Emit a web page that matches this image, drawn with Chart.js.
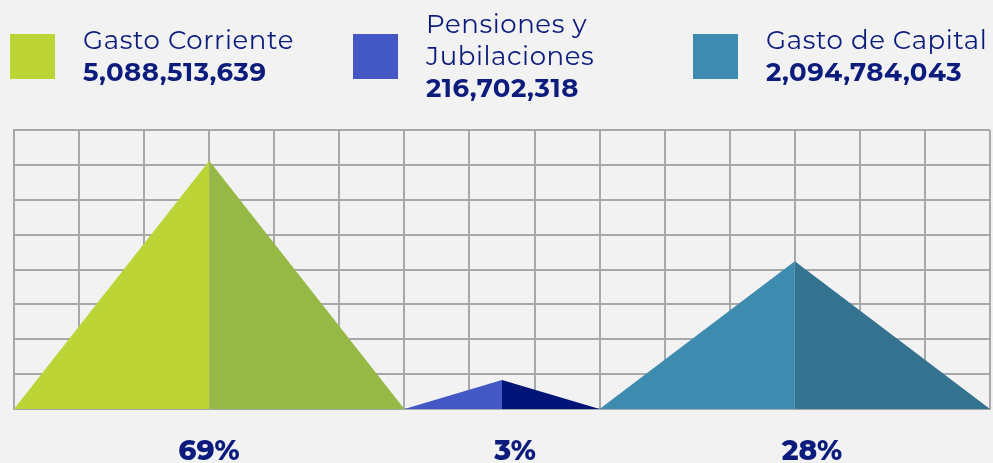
<!DOCTYPE html>
<html>
<head>
<meta charset="utf-8">
<script src="https://cdn.jsdelivr.net/npm/chart.js@4"></script>
<style>
  html, body { margin: 0; padding: 0; background: #f2f2f2; }
  body { width: 993px; height: 463px; position: relative; overflow: hidden;
         font-family: "Montserrat", "Open Sans", sans-serif; color: #0c1c7c; }
  #chart { position: absolute; left: 0; top: 0; }
  .legend-item { position: absolute; top: 33px; height: 45px; display: flex; align-items: center; }
  .legend-item .swatch { width: 45px; height: 45px; flex: none; margin-top: 2px; }
  .legend-item .text { margin-left: 28px; font-size: 26px; letter-spacing: 0.6px; line-height: 32px; white-space: nowrap; }
  .legend-item .amount { font-weight: 700; font-size: 26px; letter-spacing: 0.5px; }
  .pct { position: absolute; top: 432px; width: 120px; margin-left: -60px; text-align: center;
         font-weight: 800; font-size: 28px; line-height: 36px; }
</style>
</head>
<body>
<canvas id="chart" width="993" height="463"></canvas>
<div id="legend"></div>
<div id="pcts"></div>
<script>
const categories = [['Gasto Corriente'], ['Pensiones y', 'Jubilaciones'], ['Gasto de Capital']];
const amounts = [5088513639, 216702318, 2094784043];
const percents = [69, 3, 28];
// triangle peak heights in grid rows
const peakHeights = [7.12, 0.83, 4.24];
const lightColors = ['#bcd435', '#4358c4', '#3e8bb0'];
const darkColors = ['#96b946', '#001478', '#34738f'];

// layout: width of each pyramid in grid columns, legend / label x positions
const baseWidths = [6, 3, 6];
const legendLeft = [10, 353, 693];
const pctCenter = [209, 515, 812];

const legendElem = document.getElementById('legend');
categories.forEach((cat, i) => {
  const item = document.createElement('div');
  item.className = 'legend-item';
  item.style.left = legendLeft[i] + 'px';
  item.innerHTML = `<div class="swatch" style="background:${lightColors[i]}"></div>
    <div class="text">${cat.join('<br>')}<br><span class="amount">${amounts[i].toLocaleString('en-US')}</span></div>`;
  legendElem.appendChild(item);
});

const pctsElem = document.getElementById('pcts');
percents.forEach((p, i) => {
  const d = document.createElement('div');
  d.className = 'pct';
  d.style.left = pctCenter[i] + 'px';
  d.textContent = p + '%';
  pctsElem.appendChild(d);
});

const datasets = [];
let start = 0;
peakHeights.forEach((h, i) => {
  const mid = start + baseWidths[i] / 2;
  const end = start + baseWidths[i];
  datasets.push({
    data: [{ x: start, y: 0 }, { x: mid, y: h }, { x: mid, y: 0 }],
    backgroundColor: lightColors[i], fill: 'origin'
  });
  datasets.push({
    data: [{ x: mid, y: 0 }, { x: mid, y: h }, { x: end, y: 0 }],
    backgroundColor: darkColors[i], fill: 'origin'
  });
  start = end;
});
datasets.forEach(ds => {
  ds.borderWidth = 0;
  ds.pointRadius = 0;
  ds.tension = 0;
});

const gridStyle = { color: '#a5a9aa', lineWidth: 2, drawTicks: false };
new Chart(document.getElementById('chart').getContext('2d'), {
  type: 'line',
  data: { datasets: datasets },
  options: {
    responsive: false,
    animation: false,
    layout: { padding: { left: 14, right: 3, top: 130, bottom: 54 } },
    plugins: { legend: { display: false }, tooltip: { enabled: false } },
    scales: {
      x: {
        type: 'linear', min: 0, max: 15,
        ticks: { display: false, stepSize: 1 },
        grid: gridStyle,
        border: { display: true, color: '#a5a9aa', width: 2 }
      },
      y: {
        min: 0, max: 8,
        ticks: { display: false, stepSize: 1 },
        grid: gridStyle,
        border: { display: true, color: '#a5a9aa', width: 2 }
      }
    }
  }
});
</script>
</body>
</html>
